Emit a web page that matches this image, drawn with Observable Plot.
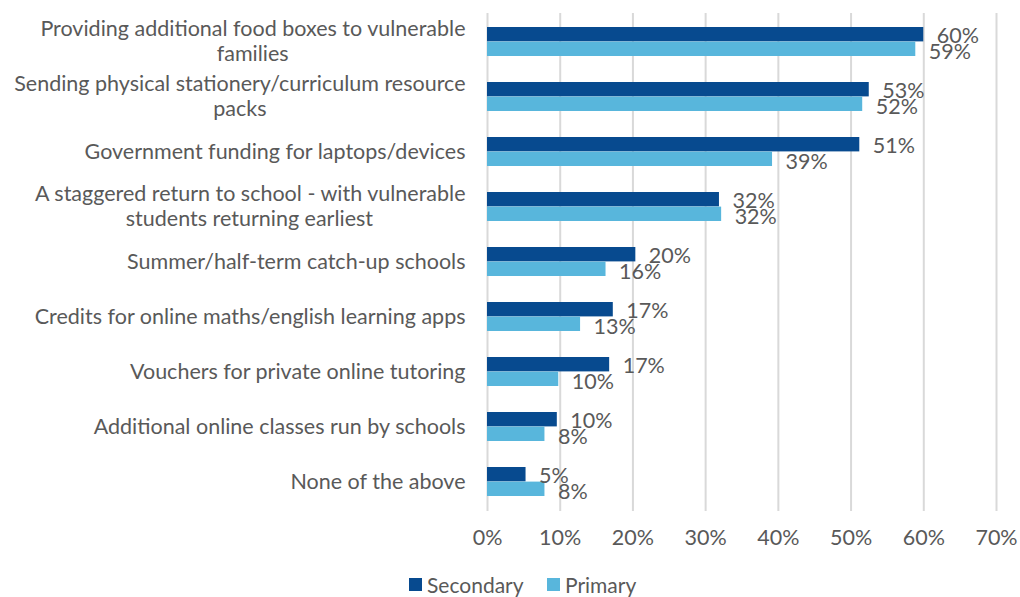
<!DOCTYPE html>
<html>
<head>
<meta charset="utf-8">
<script src="https://cdn.jsdelivr.net/npm/d3@7"></script>
<script src="https://cdn.jsdelivr.net/npm/@observablehq/plot@0.6"></script>
<style>
  html, body { margin: 0; padding: 0; background: #fff; }
  #chart svg { display: block; }
  #legend { position: relative; height: 37px; font-family: Lato, sans-serif; font-size: 21px; color: #595959; }
  .item { position: absolute; top: 14px; display: flex; align-items: center; line-height: 21px; }
  .sw { width: 13px; height: 13px; margin-right: 5px; }
</style>
</head>
<body>
<div id="chart"></div>
<div id="legend"></div>
<script>
const categories = [
  "Providing additional food boxes to vulnerable\nfamilies",
  "Sending physical stationery/curriculum resource\npacks",
  "Government funding for laptops/devices",
  "A staggered return to school - with vulnerable\nstudents returning earliest",
  "Summer/half-term catch-up schools",
  "Credits for online maths/english learning apps",
  "Vouchers for private online tutoring",
  "Additional online classes run by schools",
  "None of the above"
];
const secondary = [60.0, 52.5, 51.2, 31.9, 20.4, 17.3, 16.8, 9.6, 5.3];
const primary   = [58.9, 51.6, 39.2, 32.2, 16.3, 12.8, 9.8, 7.9, 7.9];
const seriesNames = ["Secondary", "Primary"];
const seriesColors = ["#074a8f", "#58b6dc"];
const xTicks = [0, 10, 20, 30, 40, 50, 60, 70];

const FONT = "Lato, sans-serif";
const FS = 21.5;
const GRAY = "#595959";

const secData = categories.map((c, i) => ({cat: c, v: secondary[i]}));
const priData = categories.map((c, i) => ({cat: c, v: primary[i]}));

const ctx = document.createElement("canvas").getContext("2d");
ctx.font = `${FS}px ${FONT}`;
const W = s => ctx.measureText(s).width;

const single = categories.filter(c => !c.includes("\n"));
const multi = categories.filter(c => c.includes("\n"));

const HALF = 14.6;
const LBL_DX = 22;
const LINE_OFF = 12.5;

const marks = [
  Plot.gridX(xTicks, {stroke: "#d9d9d9", strokeWidth: 2, strokeOpacity: 1}),
  Plot.barX(secData, {x: "v", y: "cat", fill: seriesColors[0], insetBottom: HALF}),
  Plot.barX(priData, {x: "v", y: "cat", fill: seriesColors[1], insetTop: HALF}),
  Plot.text(secData, {x: "v", y: "cat", text: d => Math.round(d.v) + "%", textAnchor: "start", dx: 13, dy: -6, fill: GRAY, fontSize: FS, fontFamily: FONT}),
  Plot.text(priData, {x: "v", y: "cat", text: d => Math.round(d.v) + "%", textAnchor: "start", dx: 13, dy: 10, fill: GRAY, fontSize: FS, fontFamily: FONT}),
  Plot.text(single, {x: 0, y: d => d, text: d => d, textAnchor: "end", dx: -LBL_DX, fill: GRAY, fontSize: FS, fontFamily: FONT}),
  Plot.text(multi, {x: 0, y: d => d, text: d => d.split("\n")[0], textAnchor: "end", dx: -LBL_DX, dy: -LINE_OFF, fill: GRAY, fontSize: FS, fontFamily: FONT}),
  ...multi.map(c => {
    const [l1, l2] = c.split("\n");
    return Plot.text([c], {x: 0, y: d => d, text: () => l2, textAnchor: "middle", dx: -LBL_DX - W(l1) / 2, dy: LINE_OFF, fill: GRAY, fontSize: FS, fontFamily: FONT});
  })
];

const chart = Plot.plot({
  width: 1020,
  height: 560,
  marginLeft: 487,
  marginRight: 24,
  marginTop: 13,
  marginBottom: 49,
  style: {fontFamily: FONT, fontSize: FS + "px", color: GRAY, background: "#fff"},
  x: {domain: [0, 70], ticks: xTicks, tickFormat: d => d + "%", label: null, tickSize: 0, tickPadding: 18},
  y: {domain: categories, paddingInner: 0.47, paddingOuter: 0.235, axis: null, label: null},
  marks
});
document.getElementById("chart").appendChild(chart);

const legend = document.getElementById("legend");
const lefts = [409, 547];
seriesNames.forEach((n, i) => {
  const it = document.createElement("div");
  it.className = "item";
  it.style.left = lefts[i] + "px";
  const sw = document.createElement("div");
  sw.className = "sw";
  sw.style.background = seriesColors[i];
  it.appendChild(sw);
  const t = document.createElement("span");
  t.textContent = n;
  it.appendChild(t);
  legend.appendChild(it);
});
</script>
</body>
</html>
